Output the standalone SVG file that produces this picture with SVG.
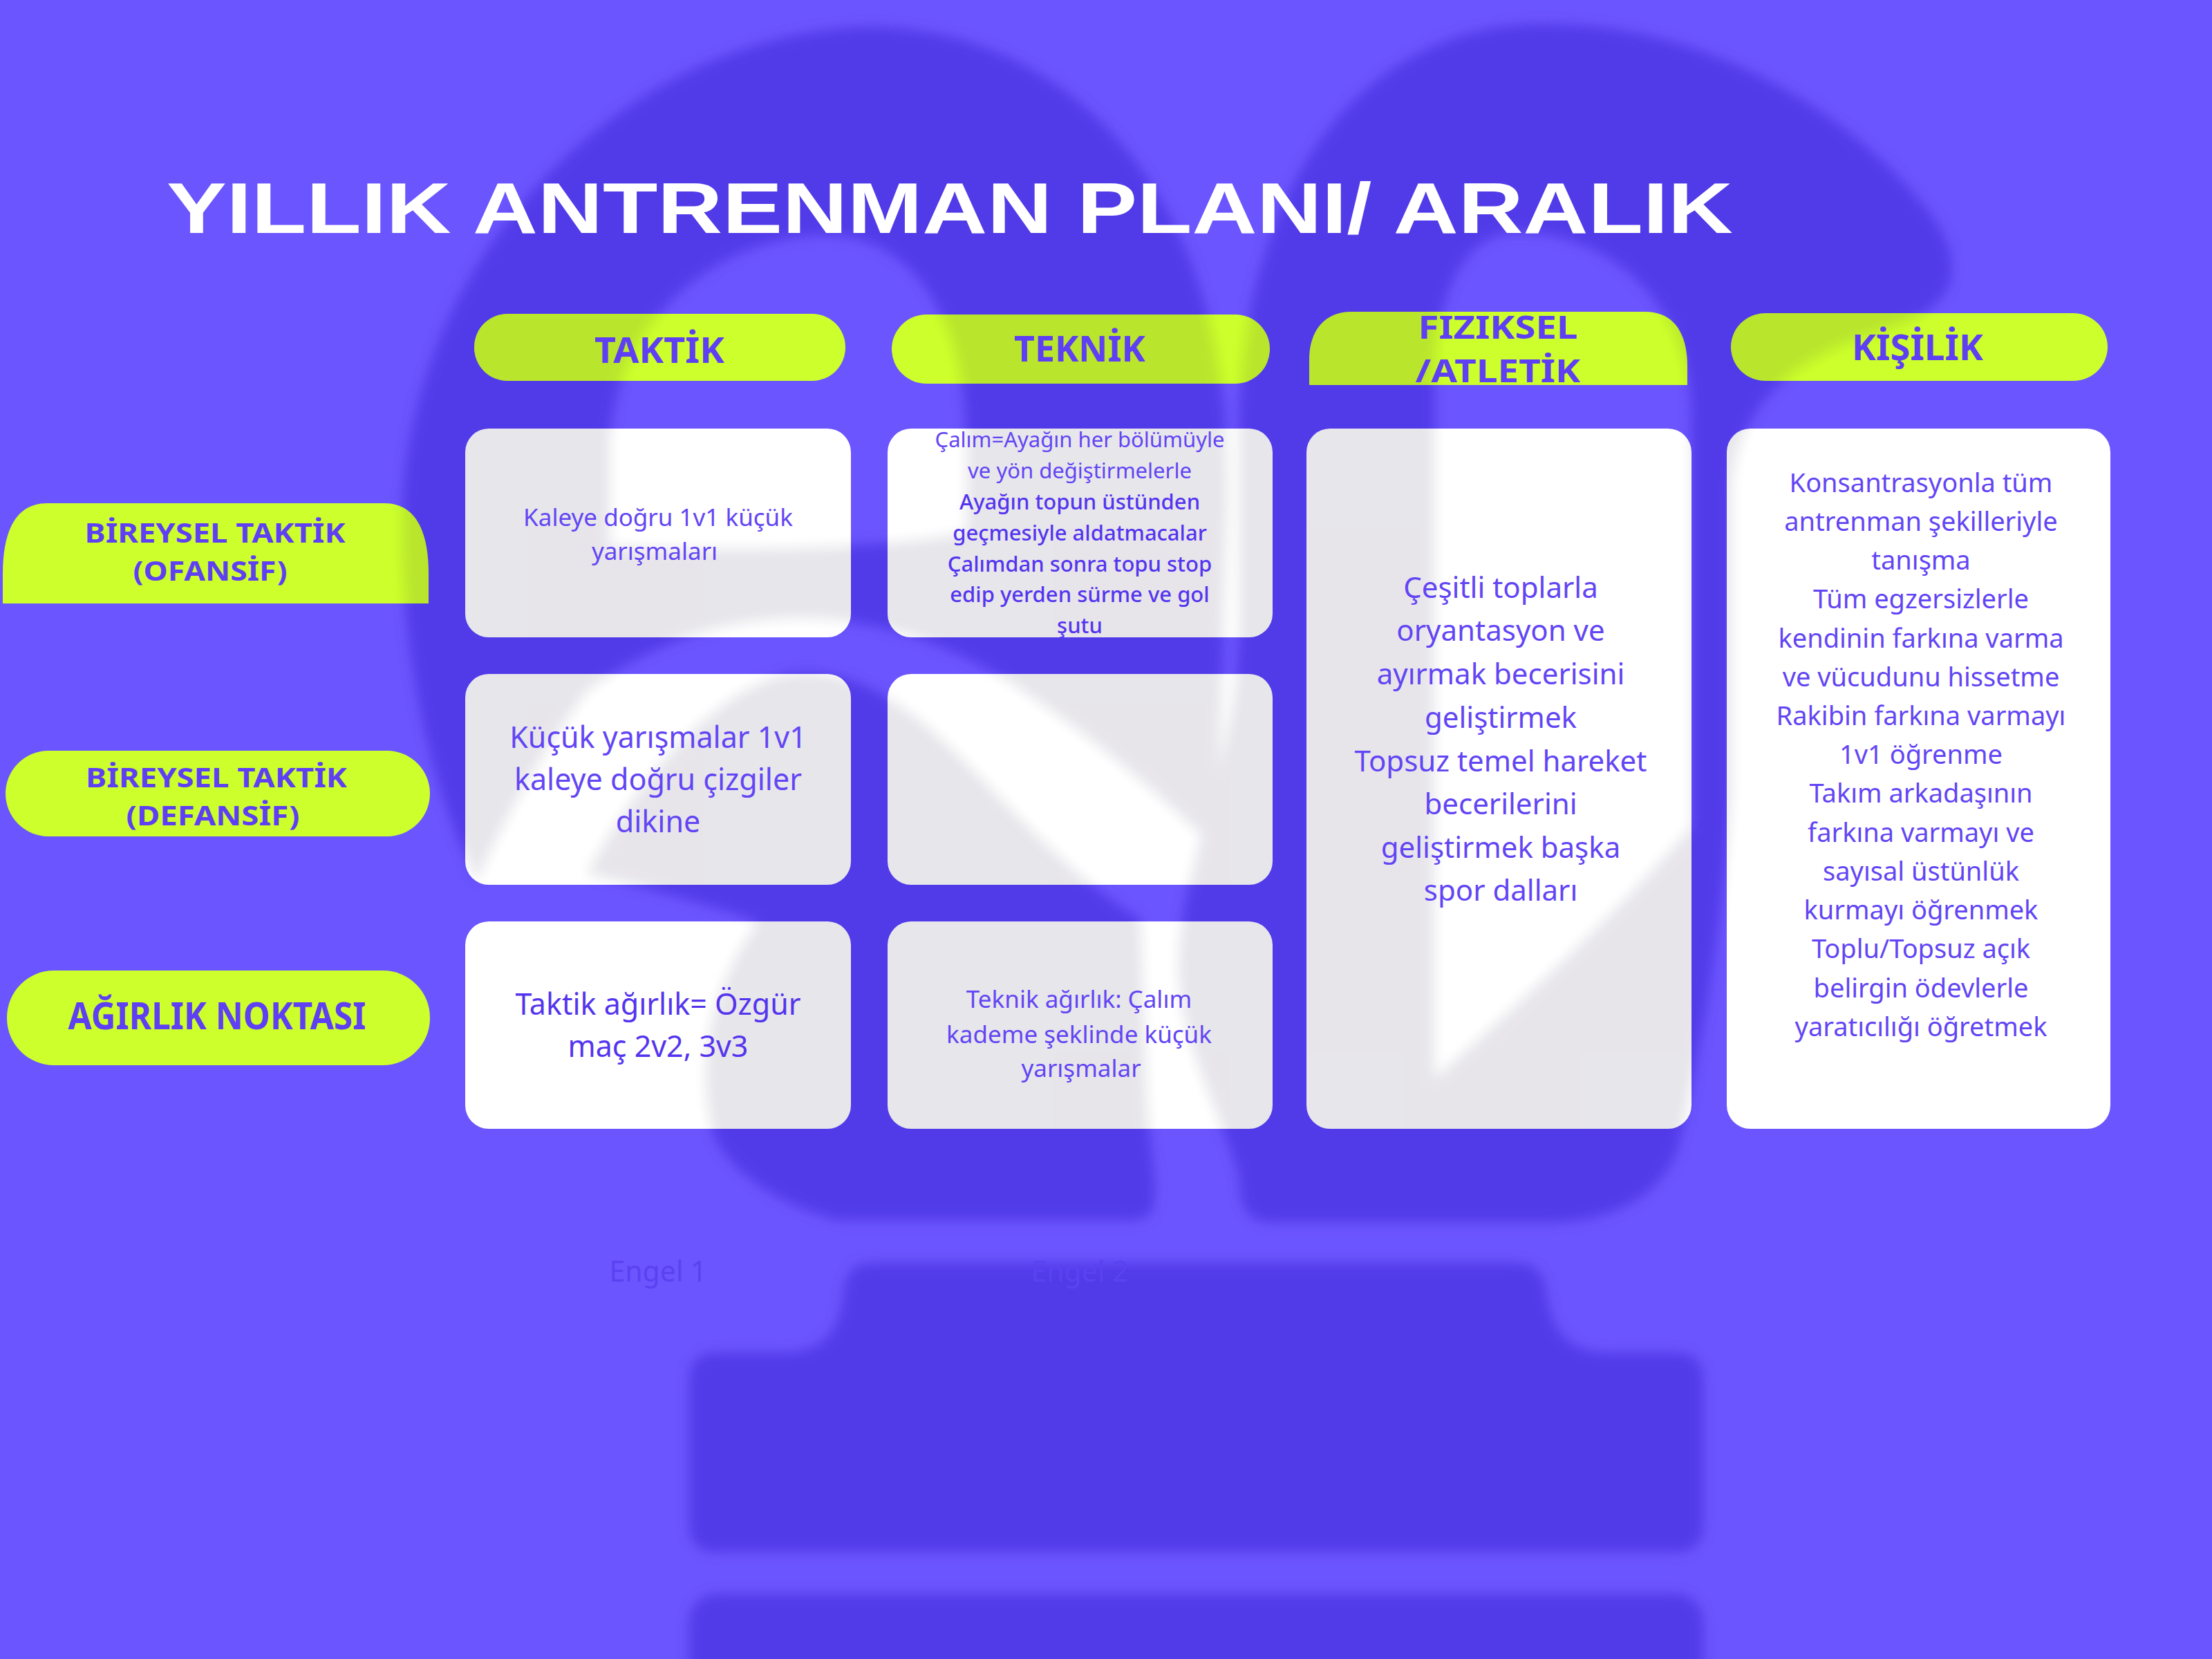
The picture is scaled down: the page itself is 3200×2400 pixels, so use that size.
<svg xmlns="http://www.w3.org/2000/svg" xmlns:xlink="http://www.w3.org/1999/xlink" width="3200" height="2400" viewBox="0 0 3200 2400">
<style>
.bg{fill:#6B55FE}
.card{fill:#FFFFFF}
.lime{fill:#CCFF2B}
.shade{fill:#1A0A40;opacity:0.1}
.t{font-family:'Noto Sans','DejaVu Sans',sans-serif;fill:#6245F4;text-anchor:middle}
.h{font-family:'Noto Sans','DejaVu Sans',sans-serif;font-weight:700;fill:#5E3FF3;text-anchor:middle}
.title{font-family:'Liberation Sans','DejaVu Sans',sans-serif;font-weight:700;fill:#FFFFFF}
.faint{font-family:'Noto Sans','DejaVu Sans',sans-serif;fill:#5A42F2;text-anchor:middle;font-size:41px}
</style>
<defs>
<filter id="blur" filterUnits="userSpaceOnUse" x="0" y="0" width="3200" height="2400"><feGaussianBlur stdDeviation="9"/></filter>
<g id="logoShapes">
<path fill-rule="evenodd" d="M1262,39 C1470,42 1650,170 1730,400 C1765,500 1776,600 1776,720 L1760,1230 C1700,1170 1600,1080 1480,1000 C1380,930 1260,890 1140,895 C1000,900 900,960 849,1000 C790,1080 730,1180 690,1275 C620,1130 582,950 582,760 C582,380 900,45 1262,39 Z M882,790 L882,640 C890,460 1040,340 1196,340 C1320,340 1398,460 1398,640 L1398,770 C1250,800 1000,795 882,790 Z"/>
<path d="M849,1265 C920,1130 1030,1000 1139,975 C1240,960 1330,1030 1429,1136 C1500,1210 1580,1290 1650,1330 L1660,1600 C1665,1700 1690,1765 1640,1765 L1212,1765 C1120,1740 1050,1690 1030,1635 C1000,1500 1050,1400 1097,1333 C1000,1300 920,1280 849,1265 Z"/>
<path fill-rule="evenodd" d="M2224,35 C2480,30 2700,180 2800,320 C2850,400 2820,450 2720,480 C2580,520 2505,600 2505,720 L2505,1150 C2490,1350 2460,1520 2430,1650 C2410,1730 2330,1768 2240,1768 L1840,1768 C1800,1768 1793,1740 1793,1700 C1760,1600 1705,1500 1705,1400 C1705,1250 1793,1100 1793,900 L1793,620 C1793,300 1950,40 2224,35 Z M2075,1560 L2075,560 C2075,420 2120,336 2195,336 C2330,336 2447,440 2447,600 L2447,1196 C2330,1330 2200,1450 2075,1560 Z"/>
<path d="M1261,1827 L2192,1827 Q2232,1827 2236,1867 C2245,1930 2270,1957 2330,1957 L2424,1957 Q2464,1957 2464,1997 L2464,2205 Q2464,2245 2424,2245 L1037,2245 Q997,2245 997,2205 L997,1997 Q997,1957 1037,1957 L1130,1957 C1190,1957 1215,1930 1221,1867 Q1225,1827 1261,1827 Z"/>
<rect x="997" y="2306" width="1467" height="200" rx="40"/>
</g>
<rect id="s-c1r1" x="673" y="620" width="558" height="302" rx="34"/>
<rect id="s-c1r2" x="673" y="975" width="558" height="305" rx="34"/>
<rect id="s-c1r3" x="673" y="1333" width="558" height="300" rx="34"/>
<rect id="s-c2r1" x="1284" y="620" width="557" height="302" rx="34"/>
<rect id="s-c2r2" x="1284" y="975" width="557" height="305" rx="34"/>
<rect id="s-c2r3" x="1284" y="1333" width="557" height="300" rx="34"/>
<rect id="s-c3" x="1890" y="620" width="557" height="1013" rx="34"/>
<rect id="s-c4" x="2498" y="620" width="555" height="1013" rx="34"/>
<rect id="s-hTak" x="686" y="454" width="537" height="97" rx="48" ry="48"/>
<rect id="s-hTek" x="1290" y="455" width="547" height="100" rx="50" ry="50"/>
<path id="s-hFiz" d="M1894,557 L1894,520 C1894,480 1915,451 1955,451 L2380,451 C2420,451 2441,480 2441,530 L2441,557 Z"/>
<rect id="s-hKis" x="2504" y="453" width="545" height="98" rx="50" ry="49"/>
<path id="s-rOf" d="M4,873 L4,830 C4,760 28,728 68,728 L556,728 C596,728 620,760 620,830 L620,873 Z"/>
<rect id="s-rDef" x="8" y="1086" width="614" height="124" rx="62" ry="62"/>
<rect id="s-rAg" x="10" y="1404" width="612" height="137" rx="68" ry="68"/>
<clipPath id="cp-c1r1"><use href="#s-c1r1"/></clipPath>
<clipPath id="cp-c1r2"><use href="#s-c1r2"/></clipPath>
<clipPath id="cp-c1r3"><use href="#s-c1r3"/></clipPath>
<clipPath id="cp-c2r1"><use href="#s-c2r1"/></clipPath>
<clipPath id="cp-c2r2"><use href="#s-c2r2"/></clipPath>
<clipPath id="cp-c2r3"><use href="#s-c2r3"/></clipPath>
<clipPath id="cp-c3"><use href="#s-c3"/></clipPath>
<clipPath id="cp-c4"><use href="#s-c4"/></clipPath>
<clipPath id="cp-hTak"><use href="#s-hTak"/></clipPath>
<clipPath id="cp-hTek"><use href="#s-hTek"/></clipPath>
<clipPath id="cp-hFiz"><use href="#s-hFiz"/></clipPath>
<clipPath id="cp-hKis"><use href="#s-hKis"/></clipPath>
<clipPath id="cp-rOf"><use href="#s-rOf"/></clipPath>
<clipPath id="cp-rDef"><use href="#s-rDef"/></clipPath>
<clipPath id="cp-rAg"><use href="#s-rAg"/></clipPath>
</defs>

<rect class="bg" x="0" y="0" width="3200" height="2400"/>
<g id="watermark"><use href="#logoShapes" fill="#513BE8" filter="url(#blur)"/></g>

<g id="title"><text class="title" x="241" y="337" font-size="104" textLength="2266" lengthAdjust="spacingAndGlyphs">YILLIK ANTRENMAN PLANI/ ARALIK</text></g>

<g id="connectors"></g>

<g id="header-taktik"><use href="#s-hTak" class="lime"/><g clip-path="url(#cp-hTak)"><use href="#logoShapes" class="shade" filter="url(#blur)"/></g><text class="h" x="954" y="525" font-size="52" textLength="188" lengthAdjust="spacingAndGlyphs">TAKTİK</text></g>
<g id="header-teknik"><use href="#s-hTek" class="lime"/><g clip-path="url(#cp-hTek)"><use href="#logoShapes" class="shade" filter="url(#blur)"/></g><text class="h" x="1562" y="523" font-size="52" textLength="190" lengthAdjust="spacingAndGlyphs">TEKNİK</text></g>
<g id="header-fiziksel"><use href="#s-hFiz" class="lime"/><g clip-path="url(#cp-hFiz)"><use href="#logoShapes" class="shade" filter="url(#blur)"/></g><text class="h" x="2167" y="490" font-size="46" textLength="231" lengthAdjust="spacingAndGlyphs">FIZIKSEL</text><text class="h" x="2167" y="553" font-size="46" textLength="239" lengthAdjust="spacingAndGlyphs">/ATLETİK</text></g>
<g id="header-kisilik"><use href="#s-hKis" class="lime"/><g clip-path="url(#cp-hKis)"><use href="#logoShapes" class="shade" filter="url(#blur)"/></g><text class="h" x="2774" y="521" font-size="52" textLength="190" lengthAdjust="spacingAndGlyphs">KİŞİLİK</text></g>

<g id="row-ofansif"><use href="#s-rOf" class="lime"/><g clip-path="url(#cp-rOf)"><use href="#logoShapes" class="shade" filter="url(#blur)"/></g><text class="h" x="311" y="785" font-size="40" textLength="377" lengthAdjust="spacingAndGlyphs">BİREYSEL TAKTİK</text><text class="h" x="304" y="840" font-size="40" textLength="223" lengthAdjust="spacingAndGlyphs">(OFANSİF)</text></g>
<g id="row-defansif"><use href="#s-rDef" class="lime"/><g clip-path="url(#cp-rDef)"><use href="#logoShapes" class="shade" filter="url(#blur)"/></g><text class="h" x="313" y="1139" font-size="40" textLength="378" lengthAdjust="spacingAndGlyphs">BİREYSEL TAKTİK</text><text class="h" x="308" y="1194" font-size="40" textLength="251" lengthAdjust="spacingAndGlyphs">(DEFANSİF)</text></g>
<g id="row-agirlik"><use href="#s-rAg" class="lime"/><g clip-path="url(#cp-rAg)"><use href="#logoShapes" class="shade" filter="url(#blur)"/></g><text class="h" x="314" y="1489" font-size="54" textLength="431" lengthAdjust="spacingAndGlyphs">AĞIRLIK NOKTASI</text></g>

<g id="card-taktik-ofansif"><use href="#s-c1r1" class="card"/><g clip-path="url(#cp-c1r1)"><use href="#logoShapes" class="shade" filter="url(#blur)"/></g>
<text class="t" font-size="35"><tspan x="952" y="761">Kaleye doğru 1v1 küçük</tspan><tspan x="947" y="810">yarışmaları</tspan></text></g>

<g id="card-taktik-defansif"><use href="#s-c1r2" class="card"/><g clip-path="url(#cp-c1r2)"><use href="#logoShapes" class="shade" filter="url(#blur)"/></g>
<text class="t" font-size="43"><tspan x="952" y="1082">Küçük yarışmalar 1v1</tspan><tspan x="952" y="1143">kaleye doğru çizgiler</tspan><tspan x="952" y="1204">dikine</tspan></text></g>

<g id="card-taktik-agirlik"><use href="#s-c1r3" class="card"/><g clip-path="url(#cp-c1r3)"><use href="#logoShapes" class="shade" filter="url(#blur)"/></g>
<text class="t" font-size="43" style="fill:#5434EE"><tspan x="952" y="1468">Taktik ağırlık= Özgür</tspan><tspan x="952" y="1529">maç 2v2, 3v3</tspan></text></g>

<g id="card-teknik-ofansif"><use href="#s-c2r1" class="card"/><g clip-path="url(#cp-c2r1)"><use href="#logoShapes" class="shade" filter="url(#blur)"/></g>
<text class="t" font-size="31"><tspan x="1562" y="647">Çalım=Ayağın her bölümüyle</tspan><tspan x="1562" y="692">ve yön değiştirmelerle</tspan></text>
<text class="t" font-size="31" font-weight="500" style="fill:#5435EF"><tspan x="1562" y="737">Ayağın topun üstünden</tspan><tspan x="1562" y="782">geçmesiyle aldatmacalar</tspan><tspan x="1562" y="827">Çalımdan sonra topu stop</tspan><tspan x="1562" y="871">edip yerden sürme ve gol</tspan><tspan x="1562" y="916">şutu</tspan></text></g>

<g id="card-teknik-defansif"><use href="#s-c2r2" class="card"/><g clip-path="url(#cp-c2r2)"><use href="#logoShapes" class="shade" filter="url(#blur)"/></g></g>

<g id="card-teknik-agirlik"><use href="#s-c2r3" class="card"/><g clip-path="url(#cp-c2r3)"><use href="#logoShapes" class="shade" filter="url(#blur)"/></g>
<text class="t" font-size="35"><tspan x="1561" y="1458">Teknik ağırlık: Çalım</tspan><tspan x="1561" y="1509">kademe şeklinde küçük</tspan><tspan x="1564" y="1558">yarışmalar</tspan></text></g>

<g id="card-fiziksel"><use href="#s-c3" class="card"/><g clip-path="url(#cp-c3)"><use href="#logoShapes" class="shade" filter="url(#blur)"/></g>
<text class="t" font-size="42"><tspan x="2171" y="865">Çeşitli toplarla</tspan><tspan x="2171" y="927">oryantasyon ve</tspan><tspan x="2171" y="990">ayırmak becerisini</tspan><tspan x="2171" y="1053">geliştirmek</tspan><tspan x="2171" y="1116">Topsuz temel hareket</tspan><tspan x="2171" y="1178">becerilerini</tspan><tspan x="2171" y="1241">geliştirmek başka</tspan><tspan x="2171" y="1303">spor dalları</tspan></text></g>

<g id="card-kisilik"><use href="#s-c4" class="card"/><g clip-path="url(#cp-c4)"><use href="#logoShapes" class="shade" filter="url(#blur)"/></g>
<text class="t" font-size="38"><tspan x="2779" y="712">Konsantrasyonla tüm</tspan><tspan x="2779" y="768">antrenman şekilleriyle</tspan><tspan x="2779" y="824">tanışma</tspan><tspan x="2779" y="880">Tüm egzersizlerle</tspan><tspan x="2779" y="937">kendinin farkına varma</tspan><tspan x="2779" y="993">ve vücudunu hissetme</tspan><tspan x="2779" y="1049">Rakibin farkına varmayı</tspan><tspan x="2779" y="1105">1v1 öğrenme</tspan><tspan x="2779" y="1161">Takım arkadaşının</tspan><tspan x="2779" y="1218">farkına varmayı ve</tspan><tspan x="2779" y="1274">sayısal üstünlük</tspan><tspan x="2779" y="1330">kurmayı öğrenmek</tspan><tspan x="2779" y="1386">Toplu/Topsuz açık</tspan><tspan x="2779" y="1443">belirgin ödevlerle</tspan><tspan x="2779" y="1499">yaratıcılığı öğretmek</tspan></text></g>

<g id="engel-1"><text class="faint" x="952" y="1854">Engel 1</text></g>
<g id="engel-2"><text class="faint" x="1562" y="1854">Engel 2</text></g>
</svg>
